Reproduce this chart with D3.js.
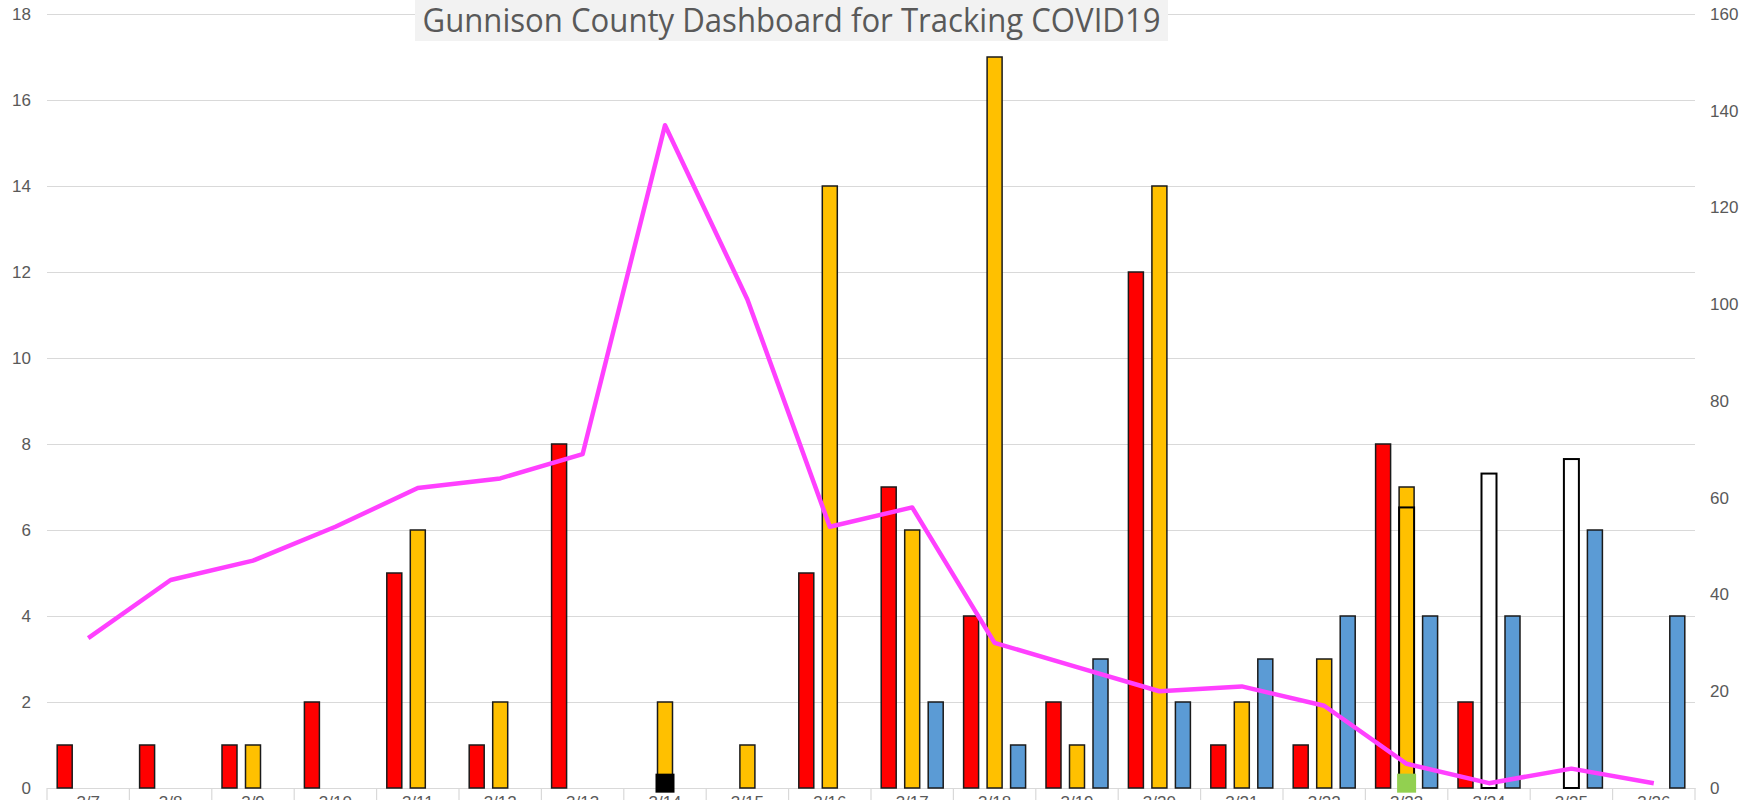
<!DOCTYPE html>
<html>
<head>
<meta charset="utf-8">
<script src="https://cdn.jsdelivr.net/npm/d3@7"></script>
<style>
  body { margin: 0; background: #fff; }
  svg { display: block; font-family: "Open Sans", sans-serif; }
</style>
</head>
<body>
<div id="chart"></div>
<script>
var categories = ["3/7","3/8","3/9","3/10","3/11","3/12","3/13","3/14","3/15","3/16",
  "3/17","3/18","3/19","3/20","3/21","3/22","3/23","3/24","3/25","3/26"];

// left axis series
var redValues    = [1,1,1,2,5,1,8,0,0,5,7,4,2,12,1,1,8,2,0,0];
var yellowValues = [0,0,1,0,6,2,0,2,1,14,6,17,1,14,2,3,7,0,0,0];
var blueValues   = [0,0,0,0,0,0,0,0,0,0,2,1,3,2,3,4,4,4,6,4];

// right axis series
var lineValues = [31,43,47,54,62,64,69,137,101,54,58,30,25,20,21,17,5,1,4,1];
var overlayDates  = ["3/23","3/24","3/25"];
var overlayValues = [58,65,68];
var overlayFills  = ["#FFC000","#FFFFFF","#FFFFFF"];
var markerDates  = ["3/14","3/23"];
var markerValues = [1,1];
var markerFills  = ["#000000","#92D050"];

var leftTicks = [0,2,4,6,8,10,12,14,16,18];
var rightTicks = [0,20,40,60,80,100,120,140,160];
var title = "Gunnison County Dashboard for Tracking COVID19";

var width = 1745, height = 800;
var plotL = 47, plotR = 1695, plotT = 14, plotB = 788;

var svg = d3.select("#chart").append("svg")
  .attr("width", width)
  .attr("height", height);

var x = d3.scaleBand().domain(categories).range([plotL, plotR]).padding(0);
var bw = x.bandwidth();
var slot = d3.scaleBand().domain(["red","yellow","blue"])
  .range([bw / 2 - 31, bw / 2 + 31]).paddingInner(0.362).paddingOuter(0);
var yL = d3.scaleLinear().domain([0, 18]).range([plotB, plotT]);
var yR = d3.scaleLinear().domain([0, 160]).range([plotB, plotT]);

// gridlines + left labels
var leftAxis = svg.append("g")
  .attr("transform", "translate(" + plotL + ",0)")
  .call(d3.axisLeft(yL).tickValues(leftTicks).tickSize(-(plotR - plotL)).tickPadding(16));
leftAxis.select(".domain").remove();
leftAxis.selectAll("line").attr("stroke", "#d9d9d9").attr("stroke-width", 1.2);
leftAxis.selectAll("text").attr("fill", "#595959").style("font-size", "17px");

var rightAxis = svg.append("g")
  .attr("transform", "translate(" + plotR + ",0)")
  .call(d3.axisRight(yR).tickValues(rightTicks).tickSize(0).tickPadding(15));
rightAxis.select(".domain").remove();
rightAxis.selectAll("text").attr("fill", "#595959").style("font-size", "17px");

// category axis
var xAxis = svg.append("g")
  .attr("transform", "translate(0," + plotB + ")")
  .call(d3.axisBottom(x).tickSize(0).tickPadding(8));
xAxis.select(".domain").attr("stroke", "#d9d9d9").attr("stroke-width", 1.2);
xAxis.selectAll("text").attr("fill", "#595959").style("font-size", "17px");
svg.append("g").selectAll("line")
  .data(categories.concat([null]))
  .enter().append("line")
  .attr("x1", function (d, i) { return plotL + i * bw; })
  .attr("x2", function (d, i) { return plotL + i * bw; })
  .attr("y1", plotB)
  .attr("y2", height)
  .attr("stroke", "#d9d9d9")
  .attr("stroke-width", 1.2);

// bars
var barSeries = [
  { key: "red", values: redValues, fill: "#FF0000" },
  { key: "yellow", values: yellowValues, fill: "#FFC000" },
  { key: "blue", values: blueValues, fill: "#5B9BD5" }
];
barSeries.forEach(function (s) {
  svg.append("g").selectAll("rect")
    .data(s.values.map(function (v, i) { return { c: categories[i], v: v }; })
      .filter(function (d) { return d.v > 0; }))
    .enter().append("rect")
    .attr("x", function (d) { return x(d.c) + slot(s.key); })
    .attr("y", function (d) { return yL(d.v); })
    .attr("width", slot.bandwidth())
    .attr("height", function (d) { return yL(0) - yL(d.v); })
    .attr("fill", s.fill)
    .attr("stroke", "#1a1a1a")
    .attr("stroke-width", 1.5);
});

// secondary-axis bars in the middle slot
svg.append("g").selectAll("rect")
  .data(overlayDates)
  .enter().append("rect")
  .attr("x", function (d) { return x(d) + slot("yellow"); })
  .attr("y", function (d, i) { return yR(overlayValues[i]); })
  .attr("width", slot.bandwidth())
  .attr("height", function (d, i) { return yR(0) - yR(overlayValues[i]); })
  .attr("fill", function (d, i) { return overlayFills[i]; })
  .attr("stroke", "#000")
  .attr("stroke-width", 2);

// line
var line = d3.line()
  .x(function (d, i) { return x(categories[i]) + bw / 2; })
  .y(function (d) { return yR(d); });
svg.append("path")
  .datum(lineValues)
  .attr("d", line)
  .attr("fill", "none")
  .attr("stroke", "#FF40FF")
  .attr("stroke-width", 4.5)
  .attr("stroke-linejoin", "round");

// markers
svg.append("g").selectAll("rect")
  .data(markerDates)
  .enter().append("rect")
  .attr("x", function (d) { return x(d) + bw / 2 - 9.5; })
  .attr("y", function (d, i) { return yR(markerValues[i]) - 9.5; })
  .attr("width", 19)
  .attr("height", 19)
  .attr("fill", function (d, i) { return markerFills[i]; });

// title
svg.append("rect")
  .attr("x", 415).attr("y", 0)
  .attr("width", 753).attr("height", 41)
  .attr("fill", "#f2f2f2");
svg.append("text")
  .attr("x", 791.5).attr("y", 32)
  .attr("text-anchor", "middle")
  .attr("fill", "#595959")
  .attr("textLength", 738)
  .attr("lengthAdjust", "spacingAndGlyphs")
  .style("font-size", "33px")
  .text(title);
</script>
</body>
</html>
